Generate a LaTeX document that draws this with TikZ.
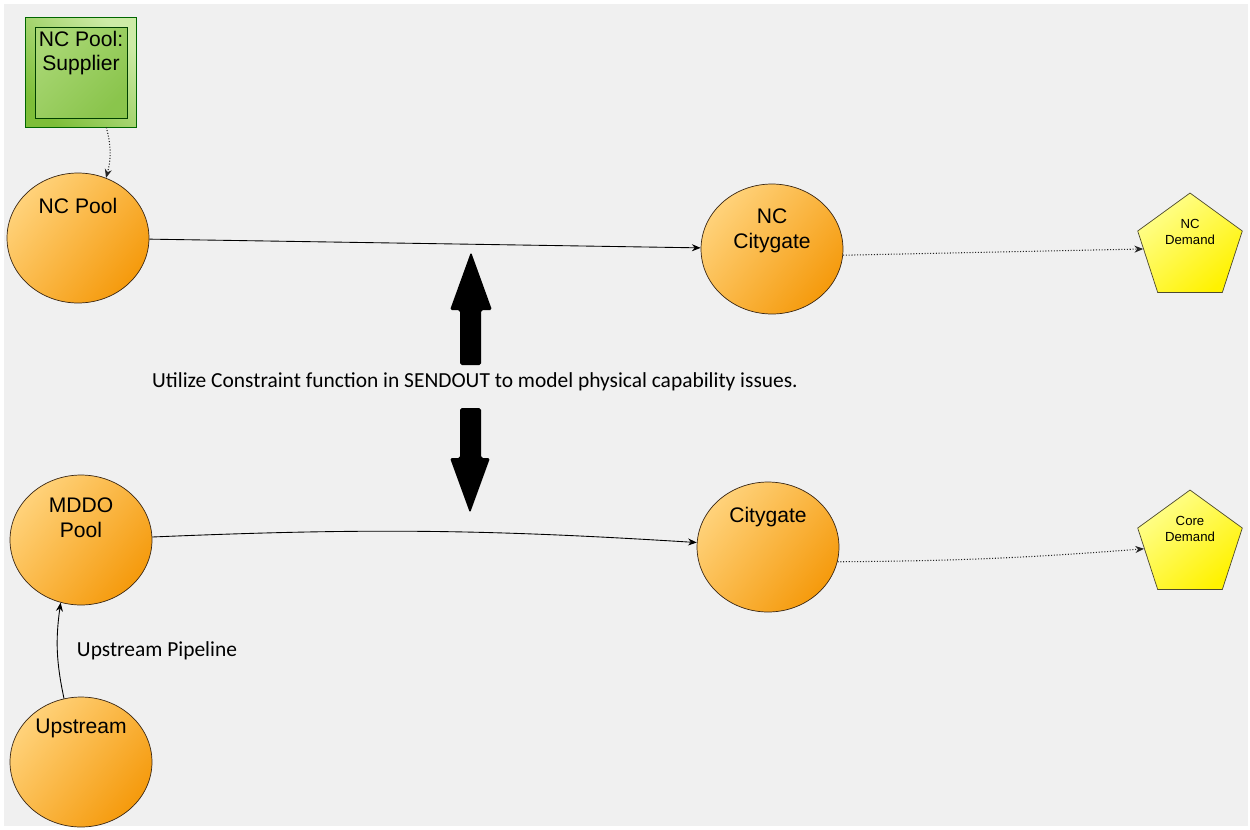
\documentclass[tikz,border=0pt]{standalone}
\usepackage{fontspec}
\setmainfont{Liberation Sans}
\newfontfamily\calibri{Carlito}
\usetikzlibrary{positioning,arrows.meta,shapes.geometric}
\definecolor{bg}{HTML}{F0F0F0}
\definecolor{poolhi}{HTML}{FFD27A}
\definecolor{poollo}{HTML}{F59A0C}
\definecolor{demhi}{HTML}{FFFF90}
\definecolor{demlo}{HTML}{FFF200}
\definecolor{suphi}{HTML}{CDEBA6}
\definecolor{suplo}{HTML}{7DBE38}

\begin{document}
\begin{tikzpicture}[
  x=0.02cm, y=-0.02cm,
  pool/.style={ellipse,draw=black!70!brown,minimum width=2.84cm,minimum height=2.6cm,inner sep=0pt,
    top color=poolhi,bottom color=poollo,shading angle=50},
  dem/.style={regular polygon,regular polygon sides=5,minimum size=2.2cm,inner sep=0pt,
    draw=black!60!olive,top color=demhi,bottom color=demlo,shading angle=40},
  suppout/.style={rectangle,draw=black!60!green,minimum width=2.22cm,minimum height=2.2cm,inner sep=0pt,
    top color=suphi,bottom color=suplo,shading angle=-45},
  suppin/.style={rectangle,draw=black!75!green,minimum width=1.84cm,minimum height=1.82cm,inner sep=0pt,
    top color=suphi!55!suplo,bottom color=suplo!90!white,shading angle=45},
  ptext/.style={font=\fontsize{12}{14}\selectfont,align=center,anchor=north,inner sep=1pt},
  dtext/.style={font=\fontsize{7.5}{9}\selectfont,align=center,anchor=north,inner sep=1pt},
  cn/.style={-{Stealth[length=5pt,width=4pt]},black,line width=0.5pt},
  dcn/.style={-{Stealth[length=5pt,width=4pt]},densely dotted,black!85,line width=0.6pt},
  blk/.style={fill=black,rounded corners=1pt}
]
\useasboundingbox (0,0) rectangle (1250,829);
\fill[white] (0,0) rectangle (1250,829);
\fill[bg] (4,4) rectangle (1248,826);

% supplier box
\node[suppout] (supbox) at (80.5,72) {};
\node[suppin,label={[ptext,yshift=-0.04cm]north:NC Pool:\\Supplier}] (supin) at (81,72.5) {};

% pools and citygates
\node[pool,label={[ptext,yshift=-0.46cm]north:NC Pool}] (ncpool) at (78,238) {};
\node[pool,label={[ptext,yshift=-0.46cm]north:NC\\Citygate}] (nccity) at (772,249) {};
\node[pool,label={[ptext,yshift=-0.42cm]north:MDDO\\Pool}] (mddo) at (81,540) {};
\node[pool,label={[ptext,yshift=-0.46cm]north:Citygate}] (city) at (768,547) {};
\node[pool,label={[ptext,yshift=-0.4cm]north:Upstream}] (upstr) at (81,762) {};

% demands
\node[dem,label={[dtext,yshift=-0.5cm]north:NC\\Demand}] (ncdem) at (1190,248) {};
\node[dem,label={[dtext,yshift=-0.5cm]north:Core\\Demand}] (coredem) at (1190,545) {};

% texts
\node[font=\calibri\fontsize{12.2}{14}\selectfont] (note) at (475,382)
  {Utilize Constraint function in SENDOUT to model physical capability issues.};
\node[font=\calibri\fontsize{12.2}{14}\selectfont] (pipe) at (157,651) {Upstream Pipeline};

% block arrows
\fill[blk] (471,252) -- (492,310) -- (481,310) -- (481,365) -- (460,365) -- (460,310) -- (450,310) -- cycle;
\fill[blk] (460,408) -- (481,408) -- (481,458) -- (490,458) -- (470,513) -- (450,458) -- (460,458) -- cycle;

% connectors
\draw[dcn] (supbox.-65) to[bend left=15] (ncpool.65);
\draw[cn] (ncpool) -- (nccity);
\draw[dcn] (nccity.-5) -- (ncdem);
\draw[cn] (mddo) to[bend left=3] (city);
\draw[dcn] (city.-12) to[bend right=2] (coredem);
\draw[cn] (upstr.105) to[bend left=10] (mddo.-108);
\end{tikzpicture}
\end{document}
